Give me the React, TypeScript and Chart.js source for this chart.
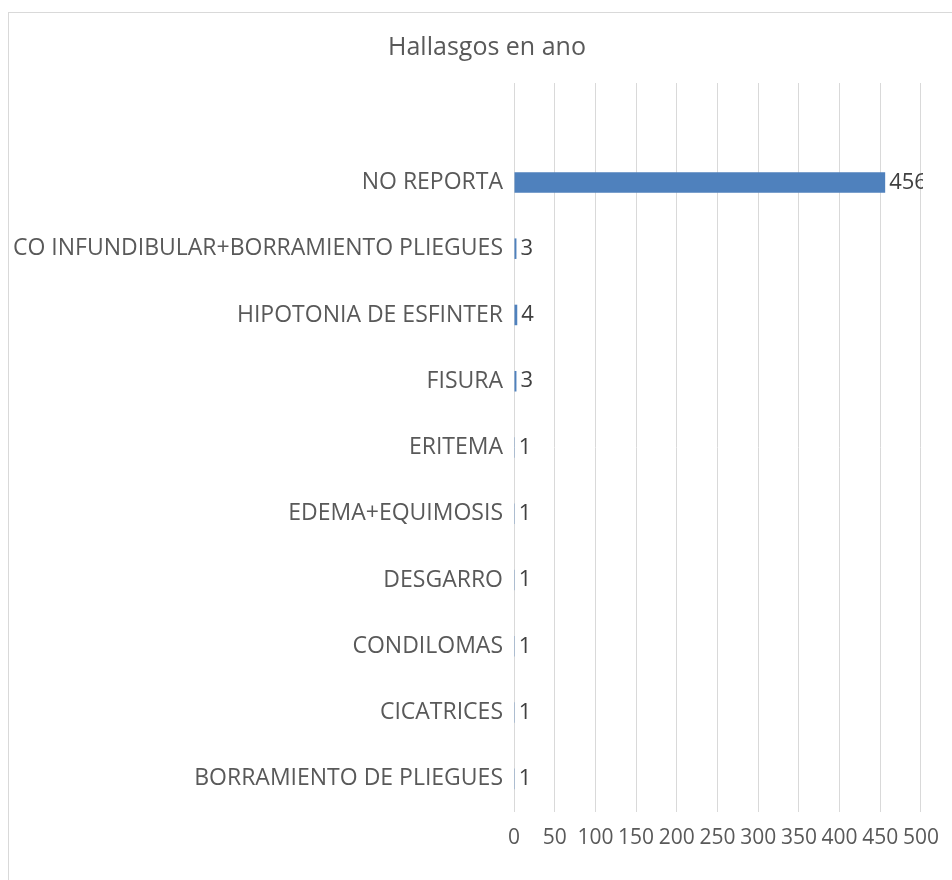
import React, { useEffect, useRef } from "react";
import { Chart, registerables } from "chart.js";

Chart.register(...registerables);

const TITLE = "Hallasgos en ano";
const CATEGORIES = [
  "",
  "NO REPORTA",
  "CO INFUNDIBULAR+BORRAMIENTO PLIEGUES",
  "HIPOTONIA DE ESFINTER",
  "FISURA",
  "ERITEMA",
  "EDEMA+EQUIMOSIS",
  "DESGARRO",
  "CONDILOMAS",
  "CICATRICES",
  "BORRAMIENTO DE PLIEGUES",
];
const VALUES: (number | null)[] = [null, 456, 3, 4, 3, 1, 1, 1, 1, 1, 1];
const X_MIN = 0;
const X_MAX = 500;
const X_STEP = 50;

const FONT = "'Open Sans', 'Noto Sans', sans-serif";

const dataLabelPlugin = {
  id: "dataLabels",
  afterDatasetsDraw(chart: any) {
    const { ctx, chartArea } = chart;
    const meta = chart.getDatasetMeta(0);
    ctx.save();
    ctx.beginPath();
    ctx.rect(chartArea.left, chartArea.top - 40, chartArea.right - chartArea.left + 2, chartArea.bottom - chartArea.top + 80);
    ctx.clip();
    ctx.font = `22px ${FONT}`;
    ctx.fillStyle = "#404040";
    ctx.textAlign = "left";
    ctx.textBaseline = "middle";
    meta.data.forEach((bar: any, i: number) => {
      const v = VALUES[i];
      if (v === null || v === undefined) return;
      ctx.fillText(String(v), bar.x + 4, bar.y);
    });
    ctx.restore();
  },
};

export default function App() {
  const ref = useRef<HTMLCanvasElement | null>(null);
  useEffect(() => {
    if (!ref.current) return;
    const chart = new Chart(ref.current, {
      type: "bar",
      data: {
        labels: CATEGORIES,
        datasets: [
          {
            data: VALUES,
            backgroundColor: "#4F81BD",
            borderWidth: 0,
            categoryPercentage: 1,
            barPercentage: 0.31,
          },
        ],
      },
      options: {
        indexAxis: "y",
        animation: false,
        responsive: false,
        maintainAspectRatio: false,
        layout: { padding: { left: 39, right: 26, top: 0, bottom: 0 } },
        plugins: {
          legend: { display: false },
          tooltip: { enabled: false },
          title: {
            display: true,
            text: TITLE,
            color: "#595959",
            font: { family: FONT, size: 25, weight: "normal" },
            padding: { top: 20, bottom: 20 },
          },
        },
        scales: {
          x: {
            min: X_MIN,
            max: X_MAX,
            afterFit: (s: any) => {
              s.height = 68;
            },
            ticks: {
              stepSize: X_STEP,
              autoSkip: false,
              maxRotation: 0,
              color: "#595959",
              font: { family: FONT, size: 21 },
              padding: 13,
            },
            grid: { color: "#d9d9d9", lineWidth: 1, drawTicks: false },
            border: { display: false },
          },
          y: {
            afterFit: (s: any) => {
              s.width = 466;
              // let long category labels run to the canvas edge instead of the axis box
              s._computeLabelArea = () => undefined;
            },
            ticks: {
              color: "#595959",
              font: { family: FONT, size: 23 },
              padding: 11,
              autoSkip: false,
            },
            grid: { display: false, drawTicks: false },
            border: { display: false },
          },
        },
      },
      plugins: [dataLabelPlugin],
    });
    return () => chart.destroy();
  }, []);

  return (
    <div
      style={{
        position: "fixed",
        left: 0,
        top: 0,
        width: 952,
        height: 880,
        overflow: "hidden",
        background: "#fff",
      }}
    >
      <div
        style={{
          position: "absolute",
          left: 8,
          top: 12,
          width: 1100,
          height: 1000,
          border: "1px solid #d9d9d9",
          boxSizing: "border-box",
        }}
      />
      <canvas
        ref={ref}
        width={943}
        height={867}
        style={{ position: "absolute", left: 9, top: 13, width: 943, height: 867 }}
      />
    </div>
  );
}
